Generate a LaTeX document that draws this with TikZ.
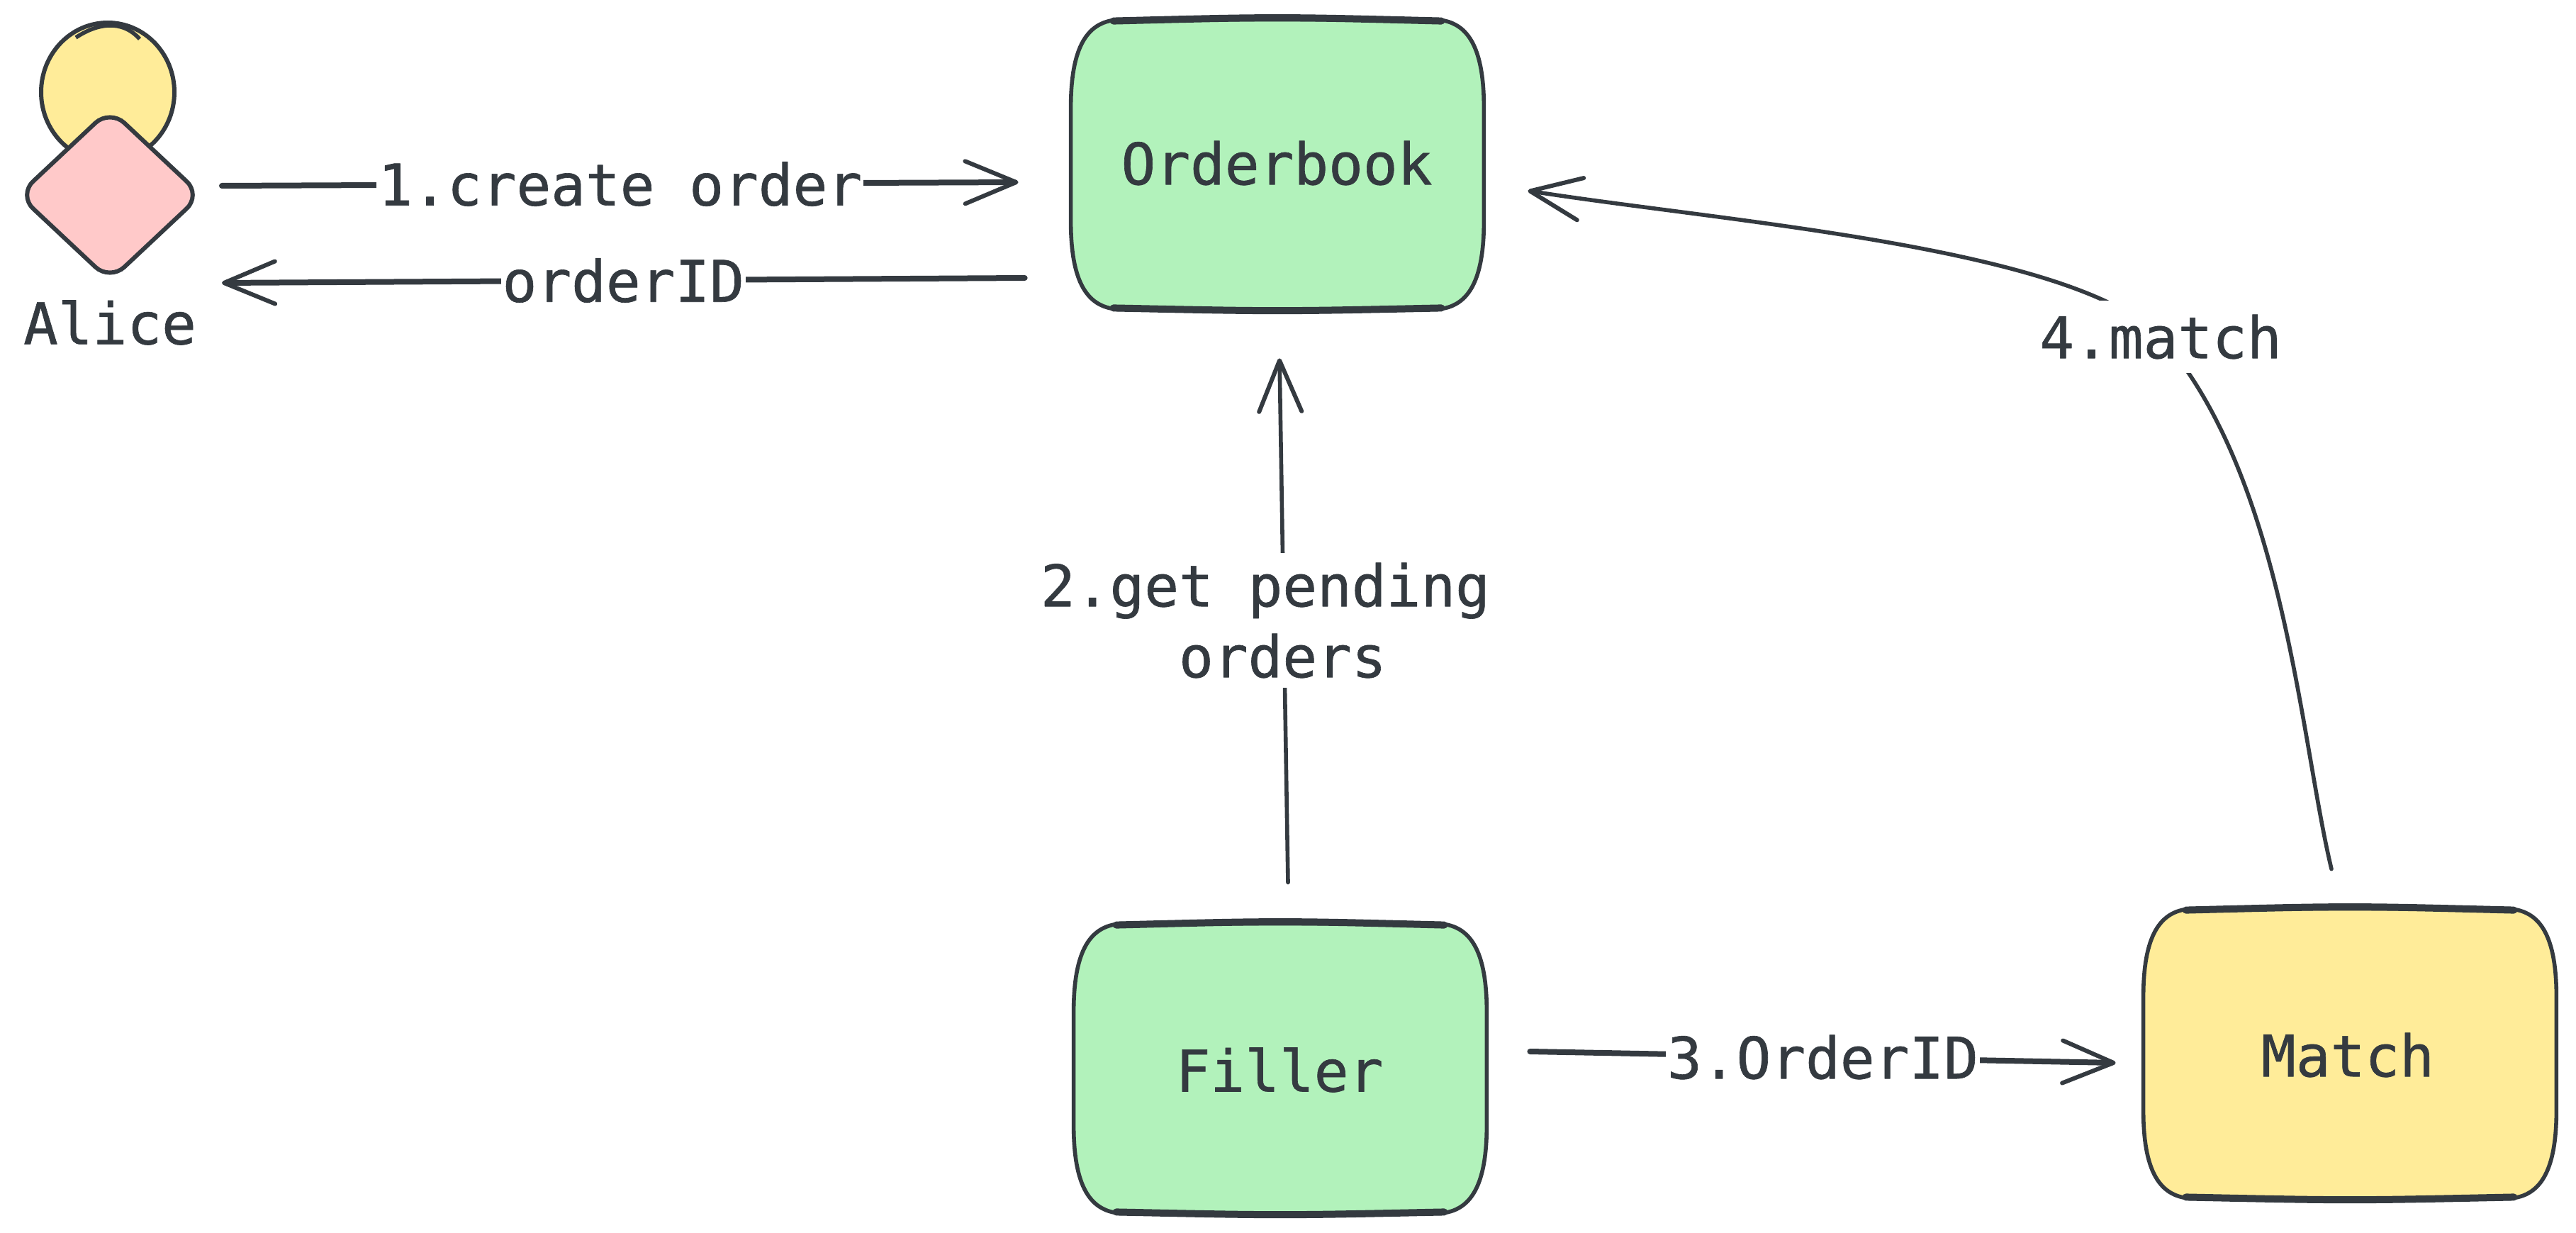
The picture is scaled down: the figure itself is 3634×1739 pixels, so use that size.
\documentclass[tikz,border=0pt]{standalone}
\usepackage{fontspec}
\newfontfamily\labfont[FakeBold=0.8]{DejaVu Sans Mono}
\usetikzlibrary{arrows.meta,shapes.geometric,backgrounds}
\definecolor{ink}{HTML}{343A40}
\definecolor{grn}{HTML}{B2F2BB}
\definecolor{yel}{HTML}{FFEC99}
\definecolor{pnk}{HTML}{FFC9C9}
\tikzset{
  txt/.style={font=\labfont\fontsize{40.5pt}{50pt}\selectfont,text=ink,align=center},
  boxnode/.style={txt,minimum width=291pt,minimum height=204pt,inner sep=0pt},
  lab/.style={txt,fill=white,inner xsep=1pt,inner ysep=2pt},
  conn/.style={draw=ink,line width=4pt,line cap=round,line join=round},
  thinconn/.style={conn,line width=2.8pt},
  tip/.style={-{Straight Barb[length=36pt,width=30pt,line width=3pt,round]}},
  edge1/.style={draw=ink,line width=2.8pt,line join=round},
  edge2/.style={draw=ink,line width=5pt,line cap=round},
}
% sketchy box drawn round a named node: name, fill colour
\newcommand{\boxoutline}[1]{([shift={(72,0)}]#1.north west) -- ([shift={(-72,0)}]#1.north east)
    .. controls ([shift={(-22,0)}]#1.north east) and ([shift={(0,40)}]#1.north east) .. ([shift={(0,125)}]#1.north east)
    -- ([shift={(0,-125)}]#1.south east)
    .. controls ([shift={(0,-40)}]#1.south east) and ([shift={(-22,0)}]#1.south east) .. ([shift={(-72,0)}]#1.south east)
    -- ([shift={(72,0)}]#1.south west)
    .. controls ([shift={(22,0)}]#1.south west) and ([shift={(0,-40)}]#1.south west) .. ([shift={(0,-125)}]#1.south west)
    -- ([shift={(0,125)}]#1.north west)
    .. controls ([shift={(0,40)}]#1.north west) and ([shift={(22,0)}]#1.north west) .. ([shift={(72,0)}]#1.north west) -- cycle}
\newcommand{\sketchbox}[2]{%
  \fill[#2] \boxoutline{#1};
  \draw[edge1] \boxoutline{#1};
  \draw[edge2] ([shift={(60,2)}]#1.north west) .. controls ([shift={(0,-4)}]#1.north) .. ([shift={(-60,2)}]#1.north east);
  \draw[edge2] ([shift={(60,-2)}]#1.south west) .. controls ([shift={(0,3)}]#1.south) .. ([shift={(-60,-2)}]#1.south east);
}
\begin{document}
\begin{tikzpicture}[x=0.5pt,y=-0.5pt]
\useasboundingbox (0,0) rectangle (3634,1739);
\fill[white] (0,0) rectangle (3634,1739);

% nodes
\node[boxnode] (orderbook) at (1802,232) {\phantom{x}};
\node[boxnode] (filler) at (1806,1507) {\phantom{x}};
\node[boxnode] (match) at (3315,1486) {\phantom{x}};
\sketchbox{orderbook}{grn}
\sketchbox{filler}{grn}
\sketchbox{match}{yel}
\node[txt] (orderbooktext) at (1801,230) {Orderbook};
\node[txt] (fillertext) at (1805,1509) {Filler};
\node[txt] (matchtext) at (3312,1488) {Match};

\node[ellipse,draw=ink,line width=3pt,fill=yel,minimum width=94pt,minimum height=98pt,inner sep=0pt] (head) at (152,130) {};
\draw[edge1] ([shift={(-45,24)}]head.north) .. controls ([shift={(-15,4)}]head.north) and ([shift={(20,-2)}]head.north) .. ([shift={(45,26)}]head.north);
\node[diamond,aspect=1,draw=ink,line width=3pt,fill=pnk,rounded corners=14pt,minimum width=130pt,minimum height=122pt,inner sep=0pt] (body) at (155,275) {};
\node[txt] (alice) at (155,455) {Alice};

% connectors
\draw[conn,tip] ([shift={(25,-13)}]body.east) -- node[lab] (l1) {1.create order} ([shift={(-74,25)}]orderbook.west);
\draw[conn,tip] ([shift={(-65,160)}]orderbook.west) -- node[lab] (l2) {orderID} ([shift={(25,124)}]body.east);
\draw[thinconn,tip] ([shift={(11,-58)}]filler.north) -- node[lab,xshift=-13pt,inner ysep=7pt] (l3) {2.get pending\\\phantom{x}orders} ([shift={(3,69)}]orderbook.south);
\draw[conn,tip] ([shift={(61,-24)}]filler.east) -- node[lab] (l5) {3.OrderID} ([shift={(-39,13)}]match.west);
\draw[thinconn,tip] ([shift={(-26,-56)}]match.north)
  .. controls (3245,1043) and (3222,672) .. (3048,475)
  node[lab,inner ysep=10pt] (l4) {4.match}
  .. controls (2920,348) and (2434,313) .. ([shift={(62,37)}]orderbook.east);
\end{tikzpicture}
\end{document}
